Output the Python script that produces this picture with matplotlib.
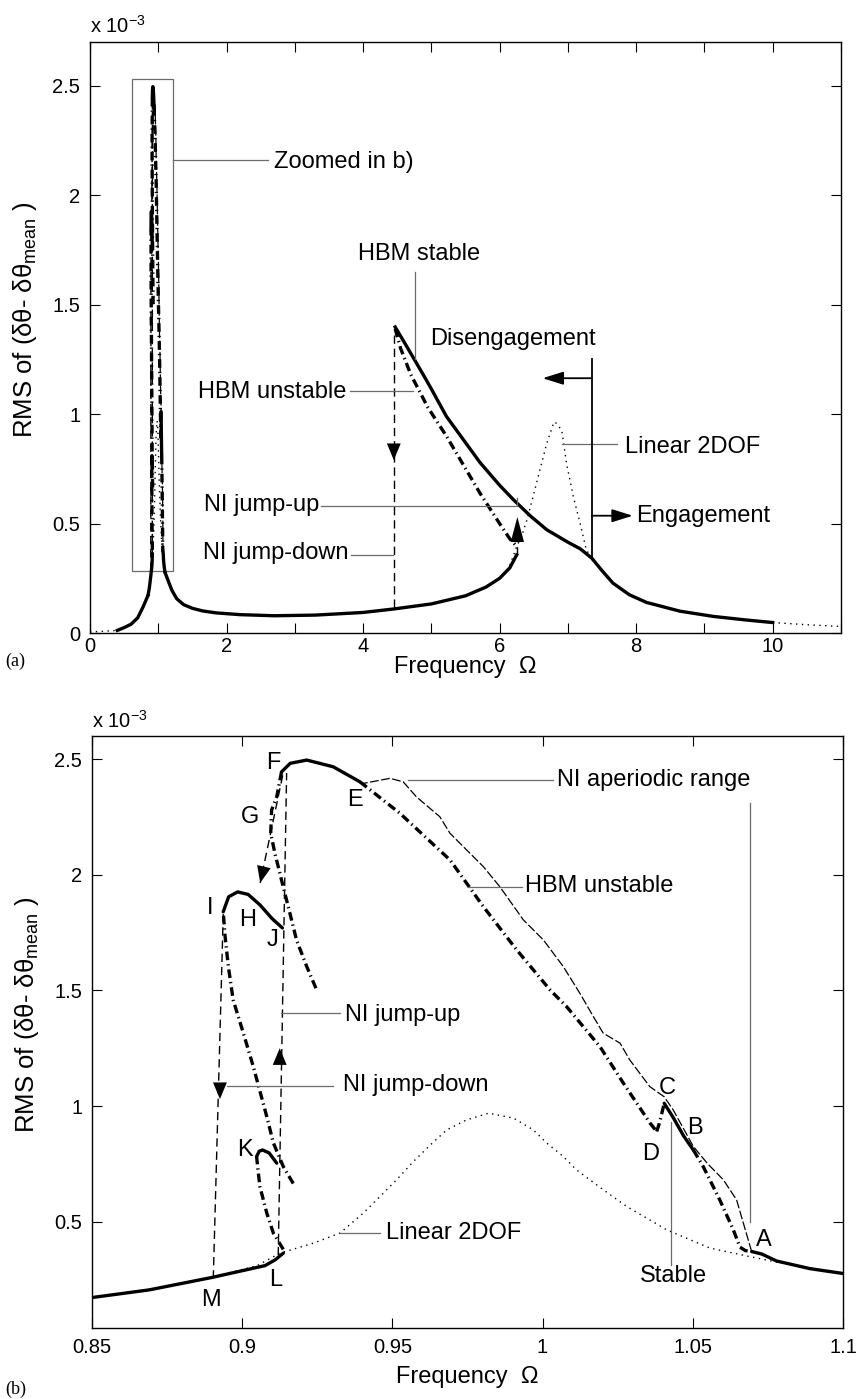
import numpy as np
import matplotlib
matplotlib.use('Agg')
import matplotlib.pyplot as plt
from matplotlib.patches import Rectangle

plt.rcParams['font.family'] = ['Liberation Sans', 'DejaVu Sans']
plt.rcParams['mathtext.default'] = 'regular'

# RMS values are all in units of 1e-3

# ---- zoomed range (panel b), also drawn inside the box of panel a ----
# linear 2DOF
lin_x = [0.85, 0.87, 0.89, 0.905, 0.9126, 0.9237, 0.9326, 0.9403, 0.9459, 0.9514, 0.957, 0.9625,
         0.9681, 0.9747, 0.982, 0.9903, 0.9969, 1.0014, 1.0069, 1.0113, 1.02, 1.028, 1.0413,
         1.0557, 1.069, 1.08, 1.1]
lin_y = [0.172, 0.21, 0.26, 0.31, 0.364, 0.407, 0.451, 0.537, 0.609, 0.681, 0.76, 0.83,
         0.897, 0.94, 0.969, 0.948, 0.897, 0.84, 0.782, 0.724, 0.64, 0.566, 0.465,
         0.386, 0.349, 0.32, 0.278]

# HBM stable branches (solid)
st_ML_x = [0.85, 0.869, 0.89, 0.9076, 0.911, 0.9137]
st_ML_y = [0.172, 0.205, 0.259, 0.31, 0.335, 0.364]
st_K_x = [0.9048, 0.9057, 0.9068, 0.909, 0.9115]
st_K_y = [0.782, 0.805, 0.81, 0.797, 0.753]
st_H_x = [0.8937, 0.8955, 0.8985, 0.902, 0.9059, 0.91, 0.9134]
st_H_y = [1.84, 1.905, 1.926, 1.915, 1.87, 1.81, 1.77]
st_FE_x = [0.9131, 0.916, 0.9215, 0.9303, 0.9392]
st_FE_y = [2.445, 2.482, 2.496, 2.467, 2.402]
st_CB_x = [1.0405, 1.0435, 1.047, 1.0502]
st_CB_y = [1.012, 0.95, 0.87, 0.81]
st_A_x = [1.0696, 1.073, 1.0779, 1.089, 1.1]
st_A_y = [0.371, 0.36, 0.33, 0.297, 0.276]

# HBM unstable branches (dash-dot)
un_LK_x = [0.9137, 0.9104, 0.9082, 0.9059, 0.9053, 0.9048]
un_LK_y = [0.38, 0.45, 0.537, 0.652, 0.72, 0.782]
un_I_x = [0.917, 0.9137, 0.9104, 0.9082, 0.9037, 0.9004, 0.897, 0.8954, 0.8943, 0.8937]
un_I_y = [0.665, 0.738, 0.84, 0.954, 1.171, 1.315, 1.459, 1.603, 1.735, 1.84]
un_F_x = [0.9131, 0.9115, 0.9098, 0.9095, 0.9109, 0.9131, 0.9159, 0.9181, 0.9215, 0.9248]
un_F_y = [2.445, 2.337, 2.28, 2.179, 2.093, 1.977, 1.833, 1.718, 1.603, 1.502]
un_ED_x = [0.9392, 0.9525, 0.9692, 0.9803, 0.9914, 1.0025, 1.008, 1.0191, 1.0269, 1.0358, 1.038]
un_ED_y = [2.402, 2.266, 2.064, 1.862, 1.675, 1.502, 1.43, 1.257, 1.099, 0.926, 0.89]
un_DC_x = [1.038, 1.039, 1.0405]
un_DC_y = [0.89, 0.93, 1.012]
un_BA_x = [1.0502, 1.0535, 1.059, 1.0635, 1.0657, 1.0675, 1.0696]
un_BA_y = [0.81, 0.738, 0.594, 0.465, 0.39, 0.375, 0.371]

# NI aperiodic range (thin dashed)
ni_x = [1.0696, 1.0646, 1.0602, 1.055, 1.0502, 1.0435, 1.0405, 1.0357, 1.029, 1.0258, 1.0202,
        1.0169, 1.0124, 1.0069, 1.0003, 0.9936, 0.9858, 0.9803, 0.9692, 0.9658, 0.958, 0.9536,
        0.9492, 0.9403]
ni_y = [0.371, 0.594, 0.681, 0.75, 0.825, 0.983, 1.04, 1.084, 1.2, 1.272, 1.315,
        1.387, 1.488, 1.603, 1.718, 1.805, 1.948, 2.035, 2.179, 2.251, 2.337, 2.402,
        2.417, 2.395]

# NI jumps (thin dashed)
jup_x = [0.912, 0.9148]
jup_y = [0.355, 2.44]
jdn1_x = [0.9135, 0.906]
jdn1_y = [2.43, 1.965]
jdn2_x = [0.8937, 0.8904]
jdn2_y = [1.83, 0.263]

# ---- full range (panel a) ----
lo_x = [0.40, 0.50, 0.60, 0.70, 0.78, 0.85]
lo_y = [0.012, 0.025, 0.040, 0.070, 0.121, 0.172]
mid_x = [1.10, 1.15, 1.20, 1.27, 1.37, 1.50, 1.65, 1.85, 2.2, 2.7, 3.3, 4.0, 4.45, 5.0, 5.5,
         5.8, 6.0, 6.15, 6.25]
mid_y = [0.276, 0.235, 0.195, 0.157, 0.13, 0.113, 0.101, 0.092, 0.084, 0.079, 0.082, 0.094,
         0.11, 0.133, 0.17, 0.21, 0.25, 0.298, 0.357]
up_x = [4.47, 4.6, 4.73, 4.9, 5.0, 5.22, 5.5, 5.71, 6.0, 6.2, 6.45, 6.69, 7.0, 7.18, 7.35, 7.5,
        7.66, 7.9, 8.15, 8.64, 9.13, 9.6, 10.0]
up_y = [1.398, 1.33, 1.261, 1.17, 1.115, 0.99, 0.87, 0.78, 0.675, 0.61, 0.535, 0.472, 0.415,
        0.385, 0.342, 0.285, 0.228, 0.175, 0.14, 0.1, 0.076, 0.06, 0.048]
upun_x = [4.47, 4.55, 4.7, 4.95, 5.22, 5.71, 6.0, 6.15, 6.24]
upun_y = [1.39, 1.30, 1.18, 1.03, 0.9, 0.64, 0.5, 0.43, 0.40]
lin_lo_x = [0.0, 0.2, 0.4]
lin_lo_y = [0.005, 0.008, 0.012]
lin_mid_x = [6.15, 6.25, 6.32, 6.40, 6.49, 6.59, 6.69, 6.79, 6.81, 6.91, 6.98, 7.08, 7.18, 7.27,
             7.35, 7.5]
lin_mid_y = [0.31, 0.395, 0.44, 0.517, 0.623, 0.745, 0.866, 0.958, 0.965, 0.927, 0.775, 0.623,
             0.50, 0.38, 0.342, 0.29]
lin_hi_x = [10.0, 10.5, 11.0]
lin_hi_y = [0.048, 0.038, 0.03]

LW = 2.4
UN_DASH = (2.6, 1.2, 0.4, 1.2)
GREY = '0.42'
FS = 17
TS = 14.5


def head(ax, xy, off, hl=0.6, hw=0.25, ms=20):
    ax.annotate('', xy=xy, xytext=off, textcoords='offset points',
                arrowprops=dict(arrowstyle='-|>,head_length=%g,head_width=%g' % (hl, hw),
                                mutation_scale=ms, lw=0, color='k', shrinkA=0, shrinkB=0))


def draw_zoom_data(ax):
    ax.plot(lin_x, lin_y, color='k', lw=1.0, dashes=(1, 3.2))
    ax.plot(ni_x, ni_y, color='k', lw=0.9, dashes=(7, 2))
    for xs, ys in [(jup_x, jup_y), (jdn1_x, jdn1_y), (jdn2_x, jdn2_y)]:
        ax.plot(xs, ys, color='k', lw=1.0, dashes=(6, 3.5))
    for xs, ys in [(un_LK_x, un_LK_y), (un_I_x, un_I_y), (un_F_x, un_F_y),
                   (un_ED_x, un_ED_y), (un_DC_x, un_DC_y), (un_BA_x, un_BA_y)]:
        ax.plot(xs, ys, color='k', lw=LW, dashes=UN_DASH)
    for xs, ys in [(st_ML_x, st_ML_y), (st_K_x, st_K_y), (st_H_x, st_H_y),
                   (st_FE_x, st_FE_y), (st_CB_x, st_CB_y), (st_A_x, st_A_y)]:
        ax.plot(xs, ys, color='k', lw=LW, solid_capstyle='round')


def style(ax):
    ax.tick_params(direction='in', top=True, right=True, length=7, width=0.8,
                   labelsize=TS, pad=7)
    for s in ax.spines.values():
        s.set_linewidth(1.0)
    ax.set_xlabel('Frequency  Ω', fontsize=FS)
    ax.set_ylabel(r'RMS of (δθ- δθ$_{mean}$ )', fontsize=18.5)
    ax.yaxis.set_label_coords(-0.068, 0.53)


fig = plt.figure(figsize=(8.62, 13.99), dpi=100)

# ================= panel (a) =================
ax1 = fig.add_axes([0.1044, 0.5475, 0.8712, 0.4225])
ax1.plot(lin_lo_x, lin_lo_y, color='k', lw=1.0, dashes=(1, 3.2))
ax1.plot(lin_mid_x, lin_mid_y, color='k', lw=1.0, dashes=(1, 3.2))
ax1.plot(lin_hi_x, lin_hi_y, color='k', lw=1.0, dashes=(1, 3.2))
draw_zoom_data(ax1)
ax1.plot([4.45, 4.45], [1.36, 0.11], color='k', lw=1.0, dashes=(6, 3.5))
ax1.plot([6.26, 6.26], [0.357, 0.45], color='k', lw=1.0, dashes=(6, 3.5))
ax1.plot(upun_x, upun_y, color='k', lw=LW, dashes=UN_DASH)
ax1.plot(lo_x, lo_y, color='k', lw=LW)
ax1.plot(mid_x, mid_y, color='k', lw=LW)
ax1.plot(up_x, up_y, color='k', lw=LW)
head(ax1, (4.45, 0.79), (0, 13))
head(ax1, (6.26, 0.53), (0, -18), hl=0.9, hw=0.24)

ax1.add_patch(Rectangle((0.62, 0.285), 0.59, 2.246, fill=False, ec=GREY, lw=0.9))
ax1.plot([1.211, 2.611], [2.161, 2.161], color=GREY, lw=0.9)
ax1.text(2.695, 2.15, 'Zoomed in b)', fontsize=FS, va='center')
ax1.plot([4.76, 4.76], [1.649, 1.25], color=GREY, lw=0.9)
ax1.text(3.93, 1.733, 'HBM stable', fontsize=FS, va='center')
ax1.plot([3.808, 4.73], [1.106, 1.106], color=GREY, lw=0.9)
ax1.text(1.586, 1.102, 'HBM unstable', fontsize=FS, va='center')
ax1.plot([3.39, 6.25, 6.25], [0.582, 0.582, 0.616], color=GREY, lw=0.9)
ax1.text(1.67, 0.585, 'NI jump-up', fontsize=FS, va='center')
ax1.plot([3.83, 4.44], [0.357, 0.357], color=GREY, lw=0.9)
ax1.text(1.66, 0.365, 'NI jump-down', fontsize=FS, va='center')
ax1.plot([6.908, 7.72], [0.862, 0.862], color=GREY, lw=0.9)
ax1.text(7.835, 0.851, 'Linear 2DOF', fontsize=FS, va='center')
ax1.text(4.98, 1.345, 'Disengagement', fontsize=FS, va='center')
ax1.plot([7.35, 7.35], [0.343, 1.25], color='k', lw=1.3)
arr = dict(arrowstyle='-|>,head_length=0.7,head_width=0.22', mutation_scale=18,
           lw=1.3, color='k', shrinkA=0, shrinkB=0)
ax1.annotate('', xy=(6.63, 1.164), xytext=(7.35, 1.164), arrowprops=arr)
ax1.annotate('', xy=(7.95, 0.536), xytext=(7.35, 0.536), arrowprops=arr)
ax1.text(8.0, 0.535, 'Engagement', fontsize=FS, va='center')

ax1.set_xlim(0, 11)
ax1.set_ylim(0, 2.7)
ax1.set_xticks(range(0, 12))
ax1.set_xticklabels([str(i) if i % 2 == 0 else '' for i in range(0, 12)])
ax1.set_yticks([0, 0.5, 1, 1.5, 2, 2.5])
ax1.set_yticklabels(['0', '0.5', '1', '1.5', '2', '2.5'])
style(ax1)
ax1.tick_params(axis='x', pad=2.5)
ax1.xaxis.set_label_coords(0.5, -0.039)
fig.text(90 / 862, 1 - 33 / 1399, r'x 10$^{-3}$', fontsize=TS, va='baseline')
fig.text(5 / 862, 1 - 666 / 1399, '(a)', fontsize=13, family='Liberation Serif', va='baseline')

# ================= panel (b) =================
ax2 = fig.add_axes([0.1067, 0.0507, 0.8712, 0.4232])
draw_zoom_data(ax2)
head(ax2, (0.9125, 1.25), (0, -12))
head(ax2, (0.8926, 1.03), (0, 13))
head(ax2, (0.906, 1.965), (3, 13))

ax2.plot([0.9553, 1.0035], [2.41, 2.41], color=GREY, lw=0.9)
ax2.plot([1.069, 1.069], [2.31, 0.5], color=GREY, lw=0.9)
ax2.text(1.0047, 2.41, 'NI aperiodic range', fontsize=FS, va='center')
ax2.plot([0.9753, 0.993], [1.948, 1.948], color=GREY, lw=0.9)
ax2.text(0.9941, 1.95, 'HBM unstable', fontsize=FS, va='center')
ax2.plot([0.9128, 0.9326], [1.401, 1.401], color=GREY, lw=0.9)
ax2.text(0.9342, 1.394, 'NI jump-up', fontsize=FS, va='center')
ax2.plot([0.8948, 0.9303], [1.087, 1.087], color=GREY, lw=0.9)
ax2.text(0.9335, 1.091, 'NI jump-down', fontsize=FS, va='center')
ax2.plot([0.9326, 0.9459], [0.451, 0.451], color=GREY, lw=0.9)
ax2.text(0.9479, 0.451, 'Linear 2DOF', fontsize=FS, va='center')
ax2.plot([1.0427, 1.0427], [0.933, 0.314], color=GREY, lw=0.9)
ax2.text(1.0435, 0.263, 'Stable', fontsize=FS, va='center', ha='center')

letters = ['A', 'B', 'C', 'D', 'E', 'F', 'G', 'H', 'I', 'J', 'K', 'L', 'M']
letter_x = [1.0737, 1.0507, 1.0415, 1.036, 0.9376, 0.9104, 0.9026, 0.9017, 0.8893, 0.9102,
            0.9009, 0.9113, 0.8895]
letter_y = [0.419, 0.907, 1.077, 0.793, 2.323, 2.482, 2.251, 1.804, 1.855, 1.718, 0.811, 0.249,
            0.162]
for t, lx, ly in zip(letters, letter_x, letter_y):
    ax2.text(lx, ly, t, fontsize=FS, ha='center', va='center')

ax2.set_xlim(0.85, 1.1)
ax2.set_ylim(0.04, 2.6)
ax2.set_xticks([0.85, 0.9, 0.95, 1.0, 1.05, 1.1])
ax2.set_xticklabels(['0.85', '0.9', '0.95', '1', '1.05', '1.1'])
ax2.set_yticks([0.5, 1, 1.5, 2, 2.5])
ax2.set_yticklabels(['0.5', '1', '1.5', '2', '2.5'])
style(ax2)
ax2.xaxis.set_label_coords(0.5, -0.064)
fig.text(92 / 862, 1 - 728 / 1399, r'x 10$^{-3}$', fontsize=TS, va='baseline')
fig.text(5 / 862, 1 - 1394 / 1399, '(b)', fontsize=13, family='Liberation Serif', va='baseline')

fig.savefig('out.png', dpi=100)
